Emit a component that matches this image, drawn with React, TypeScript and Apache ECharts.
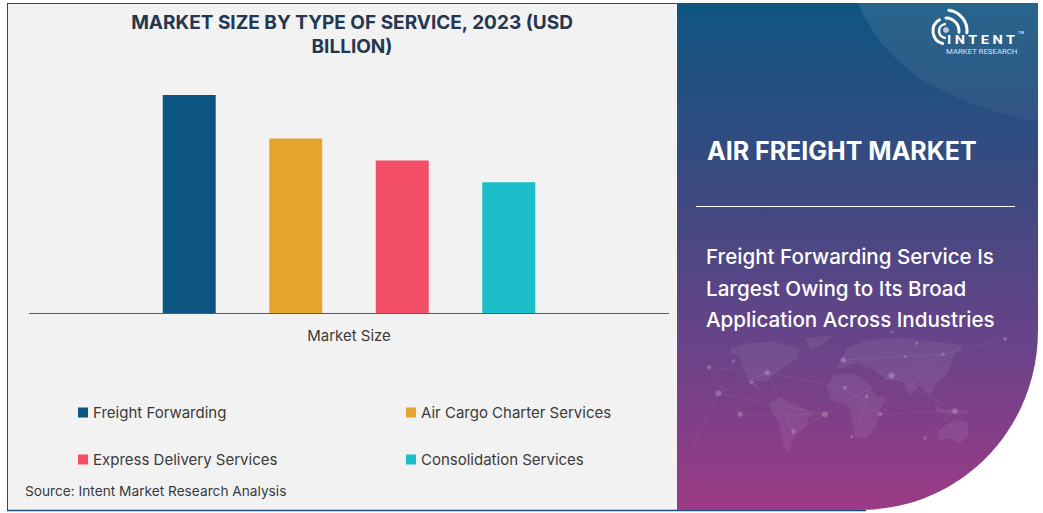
import React, { useEffect, useRef } from "react";
import * as echarts from "echarts";

const categories = ["Market Size"];
const freightForwarding = [10];
const airCargoCharter = [8];
const expressDelivery = [7];
const consolidation = [6];
const titleText = "MARKET SIZE BY TYPE OF SERVICE, 2023 (USD\nBILLION)";
const sourceText = "Source: Intent Market Research Analysis";
const headline = "AIR FREIGHT MARKET";
const bodyLines = ["Freight Forwarding Service Is", "Largest Owing to Its Broad", "Application Across Industries"];

const FONT = "Inter";
const reg = (name: string, d: string) => echarts.graphic.registerShape(name, echarts.graphic.extendPath(d, {}));
// decorative world map traced in a 3x space anchored at (690,325)
const mx = (x: number) => +(690 + x / 3).toFixed(1);
const my = (y: number) => +(325 + y / 3).toFixed(1);
const poly = (p: number[][]) => "M" + p.map(([x, y]) => `${mx(x)} ${my(y)}`).join(" L") + " Z";
const continents: number[][][] = [
  [[120,70],[170,55],[250,50],[330,70],[325,100],[285,125],[250,150],[225,170],[190,165],[205,190],[240,225],[215,205],[175,170],[160,130],[150,95],[120,85]],
  [[345,40],[430,30],[395,60],[360,75]],
  [[240,235],[270,215],[310,235],[365,265],[340,310],[310,340],[295,385],[280,360],[270,300],[245,260]],
  [[410,180],[435,150],[490,145],[530,170],[560,215],[590,215],[565,265],[560,300],[530,340],[495,340],[485,280],[470,235],[420,225]],
  [[440,130],[470,70],[530,45],[640,40],[820,60],[790,100],[770,150],[735,180],[720,215],[690,180],[660,215],[640,170],[590,165],[550,130],[500,110],[460,130]],
  [[735,240],[770,255],[830,255],[840,265],[780,268],[740,260]],
  [[740,320],[790,285],[830,290],[838,330],[810,355],[780,340],[745,345]],
];
const dots: number[][] = [
  [57,127,2.2],[85,205,3.2],[150,268,2.6],[130,108,1.8],[232,143,2.8],[185,172,1.8],[310,320,2.4],[405,268,3.2],
  [465,188,2],[530,215,1.6],[570,268,2.4],[605,152,3.2],[460,105,2.8],[760,88,1.8],[795,258,2.8],[945,42,2],
  [705,340,1.6],[485,335,1.6],[680,55,1.6],[645,95,1.4],[605,20,1.4],
];
const links: number[][] = [
  [57,127,232,143],[85,205,232,143],[85,205,405,268],[150,268,405,268],[232,143,465,188],[232,143,310,320],[405,268,605,152],
  [465,188,570,268],[605,152,760,88],[460,105,605,152],[605,152,530,215],[530,215,500,330],[605,152,795,258],[570,268,795,258],
  [760,88,945,42],[460,105,760,88],[85,205,0,380],[760,88,570,268],[310,320,405,268],[795,258,705,340],[57,127,150,268],
];
reg("panelShape", "M677 3 H1038 V330 C1038 430 960 510 860 510 H677 Z");
reg("arcGlow", "M858 3 C885 65 935 100 1038 122 V3 Z");
continents.forEach((c, i) => reg("cont" + i, poly(c)));
reg("mapLinks", links.map(([a, b, c, d]) => `M${mx(a)} ${my(b)} L${mx(c)} ${my(d)}`).join(" "));

const legendEntry = (name: string, left: number, top: number) => ({
  show: true,
  data: [name],
  left,
  top,
  orient: "horizontal",
  icon: "rect",
  itemWidth: 10,
  itemHeight: 10,
  itemGap: 5,
  selectedMode: false,
  textStyle: { fontFamily: FONT, fontSize: 15, color: "#3a3a3a" },
  padding: 0,
});

const arc = (r: number, a: number, b: number, w: number) => ({
  type: "arc",
  shape: { cx: 946, cy: 31, r, startAngle: (a * Math.PI) / 180, endAngle: (b * Math.PI) / 180, clockwise: true },
  style: { stroke: "#ffffff", lineWidth: w, fill: "none", lineCap: "round" },
  z: 6,
});

export default function App() {
  const ref = useRef<HTMLDivElement>(null);
  useEffect(() => {
    document.body.style.margin = "0";
    const chart = echarts.init(ref.current!, null, { renderer: "svg" });
    const barSeries = (name: string, data: number[], color: string) => ({
      type: "bar",
      name,
      data,
      barWidth: 53,
      barGap: "101%",
      itemStyle: { color },
    });
    chart.setOption({
      animation: false,
      backgroundColor: "#ffffff",
      title: {
        text: titleText,
        left: 347,
        top: 5,
        textAlign: "center",
        textStyle: { fontFamily: FONT, fontSize: 19, fontWeight: 700, color: "#243650", lineHeight: 24 },
      },
      grid: { left: 29.5, right: 374.5, top: 95, bottom: 200 },
      xAxis: {
        type: "category",
        data: categories,
        axisLine: { lineStyle: { color: "#555b60", width: 1 } },
        axisTick: { show: false },
        axisLabel: { fontFamily: FONT, fontSize: 15, color: "#3a3a3a", margin: 15 },
      },
      yAxis: { type: "value", min: 0, max: 10, show: false, splitLine: { show: false } },
      legend: [
        legendEntry("Freight Forwarding", 78, 405),
        legendEntry("Air Cargo Charter Services", 406, 405),
        legendEntry("Express Delivery Services", 78, 452),
        legendEntry("Consolidation Services", 406, 452),
      ],
      series: [
        barSeries("Freight Forwarding", freightForwarding, "#0b5580"),
        barSeries("Air Cargo Charter Services", airCargoCharter, "#e3a52d"),
        barSeries("Express Delivery Services", expressDelivery, "#f44f69"),
        barSeries("Consolidation Services", consolidation, "#1cbfc9"),
      ],
      graphic: [
        { type: "rect", shape: { x: 7, y: 3, width: 672, height: 507 }, style: { fill: "#f2f2f2" }, z: -2, silent: true },
        { type: "line", shape: { x1: 7.5, y1: 3, x2: 7.5, y2: 510 }, style: { stroke: "#1d4f78", lineWidth: 1 }, z: -1 },
        { type: "line", shape: { x1: 7, y1: 3.5, x2: 677, y2: 3.5 }, style: { stroke: "#1d4f78", lineWidth: 1 }, z: -1 },
        { type: "line", shape: { x1: 7, y1: 510.5, x2: 866, y2: 510.5 }, style: { stroke: "#1d4f78", lineWidth: 1.5 }, z: -1 },
        {
          type: "panelShape",
          style: {
            fill: new echarts.graphic.LinearGradient(0, 0, 0, 1, [
              { offset: 0, color: "#0f5580" },
              { offset: 0.35, color: "#3a4a80" },
              { offset: 0.68, color: "#6a4389" },
              { offset: 1, color: "#9c3a85" },
            ]),
          },
          z: 1,
        },
        {
          type: "arcGlow",
          style: {
            fill: new echarts.graphic.LinearGradient(0, 0, 0, 1, [
              { offset: 0, color: "rgba(255,255,255,0.1)" },
              { offset: 1, color: "rgba(255,255,255,0.035)" },
            ]),
          },
          z: 2,
        },
        ...continents.map((_, i) => ({
          type: "cont" + i,
          style: { fill: "rgba(255,255,255,0.065)" },
          z: 3,
        })),
        { type: "mapLinks", style: { fill: "none", stroke: "rgba(255,255,255,0.09)", lineWidth: 0.7 }, z: 3 },
        ...dots.map(([x, y, r]) => ({
          type: "circle",
          shape: { cx: mx(x), cy: my(y), r },
          style: { fill: "rgba(255,255,255,0.2)" },
          z: 3,
        })),
        arc(21, 278, 5, 3),
        arc(13, 270, 5, 3),
        arc(13, 105, 240, 3),
        arc(7, 100, 260, 2.5),
        { type: "circle", shape: { cx: 946, cy: 30, r: 3 }, style: { fill: "#b9c9dc" }, z: 6 },
        {
          type: "text",
          style: { x: 947, y: 32.5, text: "I N T E N T", fontFamily: "Roboto", fontWeight: 700, fontSize: 13, fill: "#ffffff", letterSpacing: 0 },
          scaleX: 1.12,
          originX: 947,
          originY: 32,
          z: 7,
        },
        { type: "text", style: { x: 1018, y: 30, text: "TM", fontFamily: "Roboto", fontSize: 4, fill: "#ffffff" }, z: 7 },
        {
          type: "text",
          style: { x: 946, y: 47.5, text: "MARKET RESEARCH", fontFamily: "Roboto", fontSize: 7.8, fill: "#d8e2ef" },
          z: 7,
        },
        {
          type: "text",
          style: { x: 707, y: 138, text: headline, fontFamily: FONT, fontWeight: 700, fontSize: 25, fill: "#ffffff" },
          z: 5,
        },
        { type: "line", shape: { x1: 696, y1: 206.5, x2: 1015, y2: 206.5 }, style: { stroke: "#ffffff", lineWidth: 1 }, z: 5 },
        ...bodyLines.map((text, i) => ({
          type: "text",
          style: { x: 706, y: [246, 278, 309][i], text, fontFamily: FONT, fontWeight: 500, fontSize: 20.6, fill: "#ffffff" },
          z: 5,
        })),
        {
          type: "text",
          style: { x: 25, y: 484, text: sourceText, fontFamily: FONT, fontSize: 13.7, fill: "#3a3a3a" },
          z: 5,
        },
      ],
    });
    return () => chart.dispose();
  }, []);
  return <div ref={ref} style={{ width: 1043, height: 513 }} />;
}
